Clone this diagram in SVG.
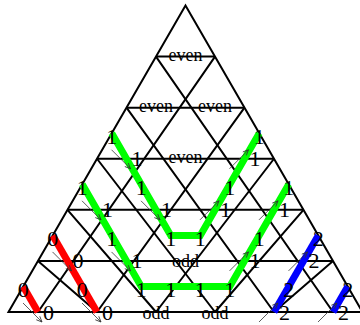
<svg xmlns="http://www.w3.org/2000/svg" width="360" height="325" viewBox="0 0 360 325">
<defs>
<style>
.g{stroke:#000;stroke-width:2;fill:none}
.p{fill:none;stroke-width:7}
.gr{stroke:#00ff00}
.rd{stroke:#ff0000}
.bl{stroke:#0000ff}
.ar{stroke:#333;stroke-width:0.8;fill:none;marker-end:url(#ah)}
.d{font-family:"Liberation Serif","Times New Roman",serif;font-size:22px;text-anchor:middle;fill:#000}
.w{font-family:"Liberation Serif","Times New Roman",serif;font-size:18px;text-anchor:middle;fill:#000}
</style>
<marker id="ah" viewBox="0 0 10 10" refX="9" refY="5" markerWidth="7" markerHeight="7" orient="auto" markerUnits="userSpaceOnUse">
<path d="M1,1.5 L9,5 L1,8.5" fill="none" stroke="#333" stroke-width="1.2"/>
</marker>
</defs>
<rect width="360" height="325" fill="#fff"/>
<g id="grid" class="g">
<path d="M8.5,312 L185.5,5.5 L362.5,312 Z"/>
<path d="M156,56.58H215 M126.5,107.67H244.5 M97,158.75H274 M67.5,209.83H303.5 M38,260.92H333"/>
<path d="M215,56.58L38,312 M244.5,107.67L97,312 M274,158.75L156,312 M303.5,209.83L215,312 M333,260.92L274,312"/>
<path d="M156,56.58L333,312 M126.5,107.67L274,312 M97,158.75L215,312 M67.5,209.83L156,312 M38,260.92L97,312"/>
</g>
<g id="connectors">
<polyline class="p gr" points="111.75,133.21 170.75,235.38 200.25,235.38 259.25,133.21"/>
<polyline class="p gr" points="82.25,184.29 141.25,286.46 229.75,286.46 288.75,184.29"/>
<polyline class="p rd" points="52.75,235.38 97,312"/>
<polyline class="p rd" points="23.25,286.46 38,312"/>
<polyline class="p bl" points="318.25,235.38 274,312"/>
<polyline class="p bl" points="347.75,286.46 333,312"/>
<path class="ar" d="M111.5,149.75L130.5,168.75"/>
<path class="ar" d="M141,200.83L160,219.83"/>
<path class="ar" d="M82,200.83L101,219.83"/>
<path class="ar" d="M111.5,251.92L130.5,270.92"/>
<path class="ar" d="M52.5,251.92L71.5,270.92"/>
<path class="ar" d="M82,303L101,322"/>
<path class="ar" d="M23,303L42,322"/>
<path class="ar" d="M229.5,168.75L248.5,149.75"/>
<path class="ar" d="M200,219.83L219,200.83"/>
<path class="ar" d="M229.5,270.92L248.5,251.92"/>
<path class="ar" d="M259,219.83L278,200.83"/>
<path class="ar" d="M288.5,270.92L307.5,251.92"/>
<path class="ar" d="M259,322L278,303"/>
<path class="ar" d="M318,322L337,303"/>
</g>
<g id="parity-labels" class="w">
<text x="185.5" y="60.9">even</text>
<text x="156" y="112">even</text>
<text x="215" y="112">even</text>
<text x="185.5" y="163.1">even</text>
<text x="185.5" y="267.4">odd</text>
<text x="156" y="318.5">odd</text>
<text x="215" y="318.5">odd</text>
</g>
<g id="edge-labels" class="d">
<text x="111.75" y="143.7">1</text>
<text x="141.25" y="194.8">1</text>
<text x="170.75" y="245.9">1</text>
<text x="200.25" y="245.9">1</text>
<text x="229.75" y="194.8">1</text>
<text x="259.25" y="143.7">1</text>
<text x="137" y="166.25">1</text>
<text x="166.5" y="217.3">1</text>
<text x="225.5" y="217.3">1</text>
<text x="255" y="166.25">1</text>
<text x="82.25" y="194.8">1</text>
<text x="111.75" y="245.9">1</text>
<text x="141.25" y="297">1</text>
<text x="170.75" y="297">1</text>
<text x="200.25" y="297">1</text>
<text x="229.75" y="297">1</text>
<text x="259.25" y="245.9">1</text>
<text x="288.75" y="194.8">1</text>
<text x="107.5" y="217.3">1</text>
<text x="137" y="268.4">1</text>
<text x="255" y="268.4">1</text>
<text x="284.5" y="217.3">1</text>
<text x="52.75" y="245.9">0</text>
<text x="82.25" y="297">0</text>
<text x="23.25" y="297">0</text>
<text x="78" y="268.4">0</text>
<text x="107.5" y="319.5">0</text>
<text x="48.5" y="319.5">0</text>
<text x="318.25" y="245.9">2</text>
<text x="288.75" y="297">2</text>
<text x="347.75" y="297">2</text>
<text x="314" y="268.4">2</text>
<text x="284.5" y="319.5">2</text>
<text x="343.5" y="319.5">2</text>
</g>
</svg>
